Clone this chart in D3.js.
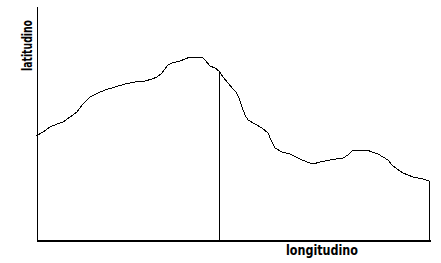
<!DOCTYPE html>
<html>
<head>
<meta charset="utf-8">
<script src="https://cdn.jsdelivr.net/npm/d3@7"></script>
<style>
  html, body { margin: 0; padding: 0; background: #fff; }
  svg { display: block; }
  .lbl { font-family: "DejaVu Sans Condensed", "Liberation Sans Narrow", "Liberation Sans", sans-serif; font-weight: bold; font-size: 14px; fill: #000; }
</style>
</head>
<body>
<div id="chart"></div>
<script>
// --- Données (profil)
const lon = [0, 7, 14, 21, 27, 34, 41, 47, 54, 62, 69, 79, 89, 99, 109, 116, 121, 126, 129, 132,
  136, 144, 154, 166, 169, 174, 179, 183, 187, 192, 197, 200, 203, 206, 209, 212, 219, 226, 232, 235,
  239, 246, 254, 264, 271, 277, 284, 294, 307, 312, 316, 322, 331, 336, 342, 347, 352, 356, 361, 367,
  377, 387, 393];
const lat = [104, 108, 113, 116, 118, 123, 128, 136, 143, 147, 150, 153, 156, 158, 159, 161, 163, 167, 171, 175,
  177, 179, 183, 183, 180, 174, 172, 169, 163, 157, 151, 148, 142, 133, 125, 120, 116, 112, 107, 100,
  92, 88, 86, 81, 78, 76, 78, 80, 82, 85, 89, 90, 90, 88, 86, 83, 80, 75, 71, 67,
  63, 61, 59];
const markerLon = 183;
const xLabel = 'longitudino';
const yLabel = 'latitudino';

const width = 441, height = 263;
const svg = d3.select('#chart').append('svg').attr('width', width).attr('height', height);

const x = d3.scaleLinear().domain([0, 394]).range([36, 430]);
const y = d3.scaleLinear().domain([0, 234]).range([240, 6]);

const pts = lon.map((d, i) => [d, lat[i]]);

// courbe
svg.append('path')
  .datum(pts)
  .attr('fill', 'none')
  .attr('stroke', '#000')
  .attr('stroke-width', 1)
  .attr('shape-rendering', 'crispEdges')
  .attr('d', d3.line().x(d => x(d[0])).y(d => y(d[1])));

// trait vertical (repère) et bord droit
const markerLat = lat[lon.indexOf(markerLon)];
svg.append('line')
  .attr('x1', x(markerLon) + 0.5).attr('x2', x(markerLon) + 0.5)
  .attr('y1', y(markerLat)).attr('y2', y(0))
  .attr('stroke', '#000').attr('shape-rendering', 'crispEdges');
const last = pts[pts.length - 1];
svg.append('line')
  .attr('x1', x(last[0]) + 0.5).attr('x2', x(last[0]) + 0.5)
  .attr('y1', y(last[1])).attr('y2', y(0))
  .attr('stroke', '#000').attr('shape-rendering', 'crispEdges');

// axes sans graduations
svg.append('g')
  .attr('transform', `translate(0,${y(0)})`)
  .call(d3.axisBottom(x).ticks(0).tickSizeOuter(0))
  .call(g => g.select('.domain').attr('stroke-width', 2).attr('shape-rendering', 'crispEdges'));
svg.append('g')
  .attr('transform', `translate(${x(0) + 0.5},0)`)
  .call(d3.axisLeft(y).ticks(0).tickSizeOuter(0))
  .call(g => g.select('.domain').attr('stroke-width', 1).attr('shape-rendering', 'crispEdges'));

// libellés
svg.append('text')
  .attr('class', 'lbl')
  .attr('x', 286).attr('y', 255)
  .attr('textLength', 72).attr('lengthAdjust', 'spacingAndGlyphs')
  .text(xLabel);
svg.append('text')
  .attr('class', 'lbl')
  .attr('transform', 'translate(32,71) rotate(-90)')
  .attr('textLength', 51).attr('lengthAdjust', 'spacingAndGlyphs')
  .text(yLabel);
</script>
</body>
</html>
